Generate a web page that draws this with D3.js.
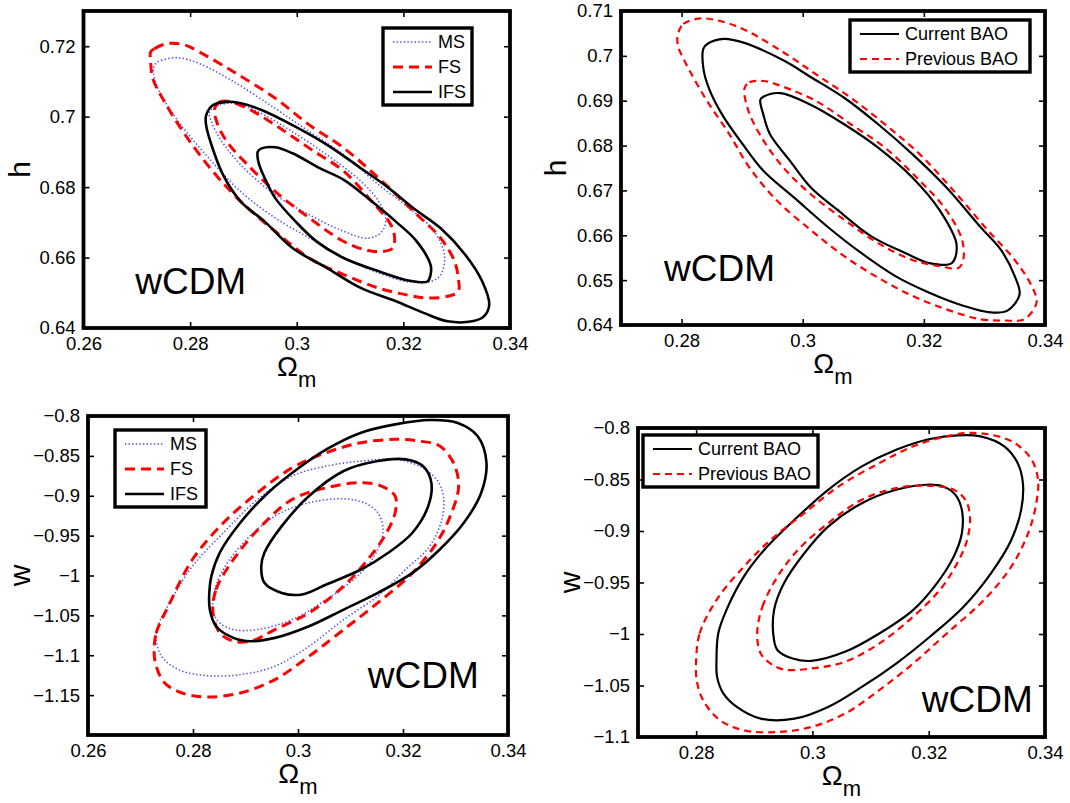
<!DOCTYPE html>
<html>
<head>
<meta charset="utf-8">
<script src="https://cdn.jsdelivr.net/npm/d3@7"></script>
<style>
  body { margin: 0; background: #fff; }
  svg { display: block; }
  text { font-family: "Liberation Sans", Arial, Helvetica, sans-serif; fill: #000; }
</style>
</head>
<body>
<svg id="fig" width="1070" height="803"></svg>
<script>
// ---------------------------------------------------------------
// Confidence contours (68% and 95%) as [Omega_m, parameter] pairs
// ---------------------------------------------------------------

// Omega_m - h plane, survey comparison (MS / FS / IFS)
const hMS95 = [[0.2733,0.7146],[0.2746,0.7160],[0.2778,0.7167],[0.2817,0.7151],[0.2882,0.7099],[0.2960,0.7023],[0.3024,0.6957],[0.3089,0.6891],[0.3154,0.6806],[0.3219,0.6731],[0.3258,0.6674],[0.3277,0.6608],[0.3270,0.6551],[0.3251,0.6532],[0.3206,0.6532],[0.3154,0.6556],[0.3089,0.6598],[0.3024,0.6655],[0.2960,0.6712],[0.2895,0.6787],[0.2830,0.6891],[0.2778,0.6986],[0.2746,0.7061],[0.2733,0.7108]];
const hMS68 = [[0.2836,0.7014],[0.2856,0.7033],[0.2882,0.7038],[0.2927,0.7014],[0.2992,0.6957],[0.3057,0.6891],[0.3121,0.6816],[0.3154,0.6759],[0.3167,0.6712],[0.3160,0.6674],[0.3134,0.6655],[0.3089,0.6674],[0.3024,0.6721],[0.2960,0.6778],[0.2895,0.6863],[0.2856,0.6938],[0.2840,0.6986]];
const hFS95 = [[0.2726,0.7184],[0.2733,0.7193],[0.2759,0.7208],[0.2791,0.7203],[0.2817,0.7184],[0.2882,0.7127],[0.2960,0.7052],[0.3024,0.6976],[0.3089,0.6910],[0.3154,0.6825],[0.3219,0.6731],[0.3270,0.6655],[0.3296,0.6589],[0.3303,0.6542],[0.3303,0.6504],[0.3283,0.6490],[0.3245,0.6485],[0.3206,0.6494],[0.3154,0.6513],[0.3089,0.6551],[0.3024,0.6598],[0.2960,0.6674],[0.2895,0.6759],[0.2843,0.6844],[0.2791,0.6948],[0.2752,0.7042],[0.2730,0.7108],[0.2726,0.7155]];
const hFS68 = [[0.2846,0.7023],[0.2856,0.7042],[0.2869,0.7044],[0.2908,0.7023],[0.2960,0.6976],[0.3024,0.6910],[0.3089,0.6844],[0.3141,0.6759],[0.3173,0.6702],[0.3183,0.6664],[0.3180,0.6627],[0.3160,0.6617],[0.3128,0.6622],[0.3083,0.6650],[0.3024,0.6712],[0.2960,0.6787],[0.2908,0.6863],[0.2869,0.6929],[0.2850,0.6985]];
const hIFS95 = [[0.2830,0.7004],[0.2843,0.7033],[0.2869,0.7042],[0.2895,0.7038],[0.2934,0.7019],[0.2992,0.6976],[0.3057,0.6920],[0.3121,0.6853],[0.3173,0.6797],[0.3219,0.6740],[0.3270,0.6683],[0.3316,0.6608],[0.3348,0.6532],[0.3361,0.6466],[0.3351,0.6433],[0.3329,0.6419],[0.3283,0.6419],[0.3238,0.6443],[0.3186,0.6476],[0.3121,0.6513],[0.3057,0.6570],[0.2992,0.6627],[0.2940,0.6702],[0.2895,0.6759],[0.2862,0.6834],[0.2840,0.6920],[0.2830,0.6976]];
const hIFS68 = [[0.2927,0.6901],[0.2934,0.6910],[0.2960,0.6913],[0.2992,0.6896],[0.3044,0.6853],[0.3089,0.6820],[0.3141,0.6759],[0.3186,0.6702],[0.3225,0.6646],[0.3251,0.6579],[0.3251,0.6551],[0.3245,0.6532],[0.3212,0.6534],[0.3154,0.6561],[0.3089,0.6598],[0.3037,0.6646],[0.2998,0.6702],[0.2960,0.6768],[0.2940,0.6825],[0.2928,0.6872]];

// Omega_m - h plane, current vs previous BAO
const hCur95 = [[0.2836,0.7016],[0.2843,0.7027],[0.2870,0.7038],[0.2901,0.7030],[0.2968,0.6990],[0.3013,0.6953],[0.3069,0.6906],[0.3125,0.6847],[0.3181,0.6781],[0.3237,0.6707],[0.3293,0.6619],[0.3327,0.6568],[0.3350,0.6509],[0.3358,0.6468],[0.3338,0.6432],[0.3310,0.6428],[0.3265,0.6443],[0.3209,0.6472],[0.3153,0.6509],[0.3097,0.6560],[0.3041,0.6619],[0.2985,0.6685],[0.2935,0.6744],[0.2901,0.6803],[0.2867,0.6869],[0.2845,0.6928],[0.2836,0.6972]];
const hCur68 = [[0.2930,0.6902],[0.2935,0.6909],[0.2963,0.6917],[0.3013,0.6891],[0.3069,0.6847],[0.3125,0.6795],[0.3181,0.6729],[0.3226,0.6656],[0.3254,0.6579],[0.3246,0.6538],[0.3209,0.6538],[0.3170,0.6560],[0.3114,0.6597],[0.3058,0.6656],[0.3013,0.6707],[0.2979,0.6766],[0.2946,0.6825],[0.2935,0.6869]];
const hPrev95 = [[0.2794,0.7049],[0.2803,0.7071],[0.2828,0.7083],[0.2856,0.7080],[0.2901,0.7060],[0.2968,0.7008],[0.3024,0.6957],[0.3080,0.6906],[0.3136,0.6847],[0.3193,0.6781],[0.3254,0.6692],[0.3305,0.6612],[0.3350,0.6545],[0.3378,0.6487],[0.3386,0.6450],[0.3366,0.6413],[0.3333,0.6410],[0.3293,0.6413],[0.3237,0.6435],[0.3181,0.6465],[0.3125,0.6505],[0.3069,0.6553],[0.3013,0.6612],[0.2957,0.6678],[0.2912,0.6751],[0.2879,0.6825],[0.2839,0.6906],[0.2806,0.6986],[0.2794,0.7023]];
const hPrev68 = [[0.2904,0.6928],[0.2912,0.6941],[0.2935,0.6944],[0.2968,0.6931],[0.3024,0.6898],[0.3080,0.6847],[0.3136,0.6795],[0.3193,0.6722],[0.3237,0.6656],[0.3263,0.6590],[0.3265,0.6545],[0.3257,0.6527],[0.3226,0.6531],[0.3181,0.6545],[0.3125,0.6582],[0.3069,0.6634],[0.3013,0.6692],[0.2968,0.6751],[0.2929,0.6825],[0.2909,0.6883]];

// Omega_m - w plane, survey comparison (MS / FS / IFS)
const wMS95 = [[0.2733,-1.0636],[0.2759,-1.0301],[0.2799,-0.9883],[0.2858,-0.9464],[0.2923,-0.9046],[0.2989,-0.8753],[0.3054,-0.8628],[0.3120,-0.8565],[0.3185,-0.8544],[0.3231,-0.8628],[0.3264,-0.8795],[0.3277,-0.9004],[0.3274,-0.9297],[0.3251,-0.9632],[0.3205,-0.9925],[0.3152,-1.0259],[0.3087,-1.0552],[0.3021,-1.0887],[0.2956,-1.1138],[0.2890,-1.1243],[0.2825,-1.1255],[0.2772,-1.1180],[0.2740,-1.1013],[0.2730,-1.0803]];
const wMS68 = [[0.2838,-1.0301],[0.2851,-1.0008],[0.2890,-0.9632],[0.2956,-0.9255],[0.3021,-0.9088],[0.3087,-0.9038],[0.3126,-0.9088],[0.3152,-0.9213],[0.3162,-0.9423],[0.3152,-0.9674],[0.3120,-0.9967],[0.3054,-1.0301],[0.2989,-1.0552],[0.2923,-1.0678],[0.2877,-1.0678],[0.2851,-1.0594],[0.2839,-1.0469]];
const wFS95 = [[0.2726,-1.0971],[0.2730,-1.0720],[0.2753,-1.0385],[0.2799,-0.9799],[0.2858,-0.9339],[0.2923,-0.8962],[0.2989,-0.8649],[0.3054,-0.8460],[0.3120,-0.8335],[0.3185,-0.8293],[0.3231,-0.8314],[0.3270,-0.8377],[0.3296,-0.8586],[0.3306,-0.8879],[0.3290,-0.9255],[0.3264,-0.9590],[0.3218,-0.9967],[0.3152,-1.0343],[0.3087,-1.0678],[0.3021,-1.1013],[0.2956,-1.1305],[0.2890,-1.1473],[0.2825,-1.1523],[0.2779,-1.1473],[0.2746,-1.1347],[0.2730,-1.1138]];
const wFS68 = [[0.2838,-1.0469],[0.2844,-1.0176],[0.2877,-0.9799],[0.2930,-0.9381],[0.2989,-0.9046],[0.3054,-0.8900],[0.3120,-0.8837],[0.3159,-0.8879],[0.3185,-0.9004],[0.3185,-0.9213],[0.3165,-0.9506],[0.3133,-0.9799],[0.3087,-1.0134],[0.3021,-1.0469],[0.2956,-1.0678],[0.2910,-1.0824],[0.2877,-1.0824],[0.2851,-1.0720]];
const wIFS95 = [[0.2831,-1.0218],[0.2835,-1.0008],[0.2851,-0.9715],[0.2890,-0.9339],[0.2943,-0.8962],[0.3002,-0.8649],[0.3054,-0.8418],[0.3120,-0.8209],[0.3185,-0.8105],[0.3251,-0.8050],[0.3303,-0.8084],[0.3342,-0.8251],[0.3359,-0.8586],[0.3349,-0.8962],[0.3316,-0.9339],[0.3270,-0.9674],[0.3218,-0.9967],[0.3152,-1.0218],[0.3087,-1.0427],[0.3021,-1.0636],[0.2956,-1.0782],[0.2910,-1.0824],[0.2877,-1.0782],[0.2844,-1.0636],[0.2832,-1.0427]];
const wIFS68 = [[0.2930,-0.9883],[0.2936,-0.9715],[0.2969,-0.9381],[0.3021,-0.9004],[0.3087,-0.8690],[0.3152,-0.8565],[0.3205,-0.8544],[0.3238,-0.8628],[0.3254,-0.8837],[0.3248,-0.9130],[0.3218,-0.9464],[0.3172,-0.9715],[0.3120,-0.9925],[0.3054,-1.0113],[0.3008,-1.0238],[0.2969,-1.0218],[0.2936,-1.0092]];

// Omega_m - w plane, current vs previous BAO
const wCur95 = [[0.2835,-1.0254],[0.2838,-0.9995],[0.2852,-0.9768],[0.2882,-0.9443],[0.2917,-0.9184],[0.2969,-0.8892],[0.3027,-0.8600],[0.3085,-0.8373],[0.3144,-0.8211],[0.3202,-0.8107],[0.3249,-0.8071],[0.3289,-0.8081],[0.3330,-0.8178],[0.3353,-0.8341],[0.3362,-0.8535],[0.3359,-0.8795],[0.3342,-0.9087],[0.3307,-0.9411],[0.3260,-0.9735],[0.3202,-1.0027],[0.3144,-1.0287],[0.3085,-1.0514],[0.3027,-1.0708],[0.2969,-1.0822],[0.2911,-1.0822],[0.2870,-1.0708],[0.2847,-1.0579],[0.2836,-1.0416]];
const wCur68 = [[0.2934,-1.0060],[0.2934,-0.9768],[0.2951,-0.9508],[0.2986,-0.9216],[0.3027,-0.8957],[0.3085,-0.8730],[0.3144,-0.8600],[0.3196,-0.8551],[0.3225,-0.8568],[0.3246,-0.8649],[0.3257,-0.8795],[0.3257,-0.9022],[0.3243,-0.9249],[0.3214,-0.9508],[0.3173,-0.9768],[0.3115,-0.9995],[0.3056,-1.0173],[0.2998,-1.0261],[0.2966,-1.0238],[0.2940,-1.0157]];
const wPrev95 = [[0.2800,-1.0254],[0.2806,-0.9995],[0.2835,-0.9670],[0.2882,-0.9346],[0.2928,-0.9087],[0.2986,-0.8827],[0.3045,-0.8568],[0.3115,-0.8341],[0.3173,-0.8178],[0.3231,-0.8081],[0.3266,-0.8049],[0.3307,-0.8065],[0.3348,-0.8146],[0.3377,-0.8308],[0.3388,-0.8503],[0.3385,-0.8730],[0.3371,-0.9022],[0.3342,-0.9346],[0.3295,-0.9670],[0.3231,-0.9995],[0.3173,-1.0287],[0.3115,-1.0546],[0.3056,-1.0773],[0.2998,-1.0903],[0.2940,-1.0952],[0.2882,-1.0935],[0.2841,-1.0838],[0.2812,-1.0643],[0.2801,-1.0449]];
const wPrev68 = [[0.2905,-0.9995],[0.2914,-0.9735],[0.2940,-0.9443],[0.2975,-0.9184],[0.3027,-0.8924],[0.3085,-0.8697],[0.3144,-0.8584],[0.3202,-0.8561],[0.3243,-0.8600],[0.3263,-0.8697],[0.3271,-0.8860],[0.3266,-0.9087],[0.3249,-0.9314],[0.3219,-0.9573],[0.3173,-0.9833],[0.3115,-1.0092],[0.3056,-1.0270],[0.2998,-1.0335],[0.2951,-1.0345],[0.2928,-1.0287],[0.2911,-1.0189]];

// Axis ticks and their labels
const omTicksWide = [0.26, 0.28, 0.30, 0.32, 0.34];
const omLabelsWide = ["0.26", "0.28", "0.3", "0.32", "0.34"];
const omTicksNarrow = [0.28, 0.30, 0.32, 0.34];
const omLabelsNarrow = ["0.28", "0.3", "0.32", "0.34"];
const hTicksA = [0.64, 0.66, 0.68, 0.70, 0.72];
const hLabelsA = ["0.64", "0.66", "0.68", "0.7", "0.72"];
const hTicksB = [0.64, 0.65, 0.66, 0.67, 0.68, 0.69, 0.70, 0.71];
const hLabelsB = ["0.64", "0.65", "0.66", "0.67", "0.68", "0.69", "0.7", "0.71"];
const wTicksA = [-1.15, -1.10, -1.05, -1.00, -0.95, -0.90, -0.85, -0.80];
const wLabelsA = ["\u22121.15", "\u22121.1", "\u22121.05", "\u22121", "\u22120.95", "\u22120.9", "\u22120.85", "\u22120.8"];
const wTicksB = [-1.10, -1.05, -1.00, -0.95, -0.90, -0.85, -0.80];
const wLabelsB = ["\u22121.1", "\u22121.05", "\u22121", "\u22120.95", "\u22120.9", "\u22120.85", "\u22120.8"];

// Legend entries
const surveyNames = ["MS", "FS", "IFS"];
const baoNames = ["Current BAO", "Previous BAO"];
const modelName = "wCDM";

// ---------------------------------------------------------------
const svg = d3.select("#fig");

const lineStyles = {
  MS:   { stroke: "#4a4aff", width: 1.5, dash: "1.4,2.2" },
  FS:   { stroke: "#ff0000", width: 3.0, dash: "10,6" },
  IFS:  { stroke: "#000000", width: 2.6, dash: null },
  "Current BAO":  { stroke: "#000000", width: 2.2, dash: null },
  "Previous BAO": { stroke: "#ff0000", width: 2.2, dash: "7,5" }
};

const panels = [
  { id: "p1", box: { l: 83.5, t: 11, r: 510, b: 328 },
    xDom: [0.26, 0.34], yDom: [0.64, 0.73],
    xTicks: omTicksWide, xLabels: omLabelsWide, yTicks: hTicksA, yLabels: hLabelsA,
    yName: "h", yNameX: 30,
    series: [["MS", [hMS95, hMS68]], ["FS", [hFS95, hFS68]], ["IFS", [hIFS95, hIFS68]]],
    legend: { l: 383, t: 28, w: 89, names: surveyNames },
    tag: [0.2697, 0.6496] },
  { id: "p2", box: { l: 621, t: 11, r: 1045, b: 325 },
    xDom: [0.27, 0.34], yDom: [0.64, 0.71],
    xTicks: omTicksNarrow, xLabels: omLabelsNarrow, yTicks: hTicksB, yLabels: hLabelsB,
    yName: "h", yNameX: 566,
    series: [["Current BAO", [hCur95, hCur68]], ["Previous BAO", [hPrev95, hPrev68]]],
    legend: { l: 850, t: 20, w: 180, names: baoNames },
    tag: [0.2771, 0.6499] },
  { id: "p3", box: { l: 88, t: 416, r: 508, b: 735 },
    xDom: [0.26, 0.34], yDom: [-1.2, -0.8],
    xTicks: omTicksWide, xLabels: omLabelsWide, yTicks: wTicksA, yLabels: wLabelsA,
    yName: "w", yNameX: 30,
    series: [["MS", [wMS95, wMS68]], ["FS", [wFS95, wFS68]], ["IFS", [wIFS95, wIFS68]]],
    legend: { l: 115, t: 430, w: 91, names: surveyNames },
    tag: [0.3133, -1.141] },
  { id: "p4", box: { l: 638, t: 428, r: 1045, b: 737 },
    xDom: [0.27, 0.34], yDom: [-1.1, -0.8],
    xTicks: omTicksNarrow, xLabels: omLabelsNarrow, yTicks: wTicksB, yLabels: wLabelsB,
    yName: "w", yNameX: 580,
    series: [["Current BAO", [wCur95, wCur68]], ["Previous BAO", [wPrev95, wPrev68]]],
    legend: { l: 643, t: 435, w: 175, names: baoNames },
    tag: [0.3188, -1.0757] }
];

const TICK_FONT = 18.5;
const TICK_LEN = 6;

function applyStyle(sel, st) {
  sel.attr("fill", "none")
     .attr("stroke", st.stroke)
     .attr("stroke-width", st.width)
     .attr("stroke-linejoin", "round")
     .attr("stroke-dasharray", st.dash);
}

panels.forEach(p => {
  const { l, t, r, b } = p.box;
  const x = d3.scaleLinear().domain(p.xDom).range([l, r]);
  const y = d3.scaleLinear().domain(p.yDom).range([b, t]);
  const g = svg.append("g").attr("id", p.id);

  g.append("clipPath").attr("id", p.id + "-clip")
    .append("rect").attr("x", l).attr("y", t).attr("width", r - l).attr("height", b - t);

  // contours
  const path = d3.line().x(d => x(d[0])).y(d => y(d[1]))
    .curve(d3.curveCatmullRomClosed.alpha(0.5));
  const plot = g.append("g").attr("clip-path", `url(#${p.id}-clip)`);
  p.series.forEach(([name, rings]) => {
    rings.forEach(ring => {
      plot.append("path").attr("d", path(ring)).call(applyStyle, lineStyles[name]);
    });
  });

  // axes with inward ticks on all four sides
  const styleAxis = (ag, withText) => {
    ag.select(".domain").remove();
    ag.selectAll(".tick line").attr("stroke", "#000").attr("stroke-width", 1.6);
    ag.selectAll(".tick text").attr("font-size", TICK_FONT)
      .attr("font-family", '"Liberation Sans", Arial, sans-serif').attr("fill", "#000");
    if (!withText) ag.selectAll(".tick text").remove();
  };
  g.append("g").attr("transform", `translate(0,${b})`)
    .call(d3.axisBottom(x).tickValues(p.xTicks).tickFormat((d, i) => p.xLabels[i])
      .tickSizeInner(-TICK_LEN).tickSizeOuter(0).tickPadding(9))
    .call(ag => styleAxis(ag, true));
  g.append("g").attr("transform", `translate(0,${t})`)
    .call(d3.axisTop(x).tickValues(p.xTicks).tickSizeInner(-TICK_LEN).tickSizeOuter(0))
    .call(ag => styleAxis(ag, false));
  g.append("g").attr("transform", `translate(${l},0)`)
    .call(d3.axisLeft(y).tickValues(p.yTicks).tickFormat((d, i) => p.yLabels[i])
      .tickSizeInner(-TICK_LEN).tickSizeOuter(0).tickPadding(8))
    .call(ag => styleAxis(ag, true));
  g.append("g").attr("transform", `translate(${r},0)`)
    .call(d3.axisRight(y).tickValues(p.yTicks).tickSizeInner(-TICK_LEN).tickSizeOuter(0))
    .call(ag => styleAxis(ag, false));

  // frame
  g.append("rect").attr("x", l).attr("y", t).attr("width", r - l).attr("height", b - t)
    .attr("fill", "none").attr("stroke", "#000").attr("stroke-width", 3.8);

  // model tag
  g.append("text").attr("x", x(p.tag[0])).attr("y", y(p.tag[1]))
    .attr("font-size", 37).text(modelName);

  // axis titles
  g.append("text")
    .attr("transform", `translate(${p.yNameX},${(t + b) / 2}) rotate(-90)`)
    .attr("text-anchor", "middle").attr("font-size", 30).text(p.yName);
  const xt = g.append("text").attr("x", (l + r) / 2).attr("y", b + 48)
    .attr("text-anchor", "middle");
  xt.append("tspan").attr("font-size", 28).text("\u03A9");
  xt.append("tspan").attr("font-size", 22).attr("dy", 11).text("m");

  // legend
  const L = p.legend, rowH = 25, n = L.names.length;
  const boxH = 14 + rowH * (n - 1) + 13;
  const lg = g.append("g");
  lg.append("rect").attr("x", L.l).attr("y", L.t).attr("width", L.w).attr("height", boxH)
    .attr("fill", "#fff").attr("stroke", "#000").attr("stroke-width", 3.4);
  L.names.forEach((name, i) => {
    const yy = L.t + 14 + i * rowH;
    lg.append("line").attr("x1", L.l + 10).attr("x2", L.l + 49).attr("y1", yy).attr("y2", yy)
      .call(applyStyle, lineStyles[name]);
    lg.append("text").attr("x", L.l + 55).attr("y", yy).attr("dy", "0.35em")
      .attr("font-size", 18).text(name);
  });
});
</script>
</body>
</html>
